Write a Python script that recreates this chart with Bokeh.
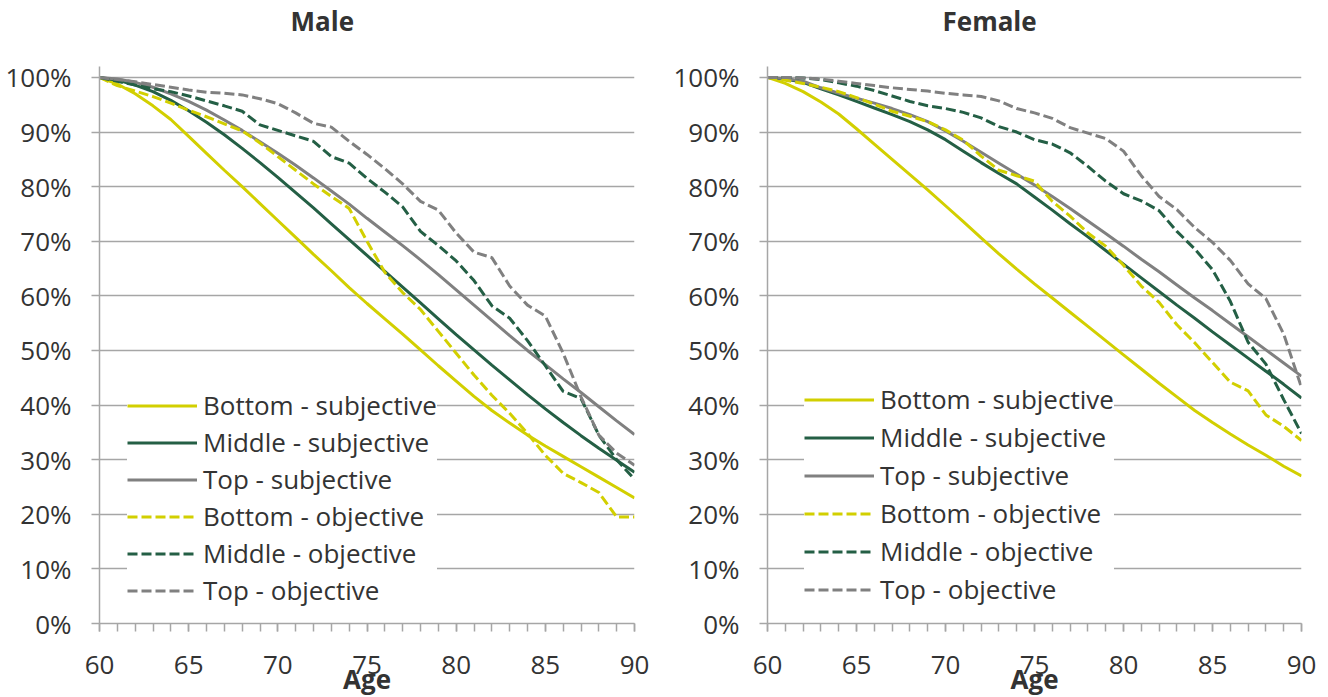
from bokeh.plotting import figure
from bokeh.layouts import row
from bokeh.models import Range1d, FixedTicker, Title
from bokeh.embed import file_html
from bokeh.resources import INLINE

ages = list(range(60, 91))

male_bottom_subj = [100, 98.8, 97.0, 94.8, 92.3, 89.2, 86.1, 83.0, 80.0, 76.9, 73.8, 70.7, 67.6, 64.6, 61.5, 58.6,
                    55.8, 53.0, 50.1, 47.2, 44.4, 41.6, 39.0, 36.7, 34.5, 32.5, 30.6, 28.7, 26.8, 24.9, 23.0]
male_middle_subj = [100, 99.5, 98.6, 97.4, 95.8, 93.9, 91.8, 89.5, 87.0, 84.4, 81.7, 78.9, 76.1, 73.2, 70.3, 67.4,
                    64.5, 61.6, 58.7, 55.8, 52.9, 50.1, 47.3, 44.6, 41.9, 39.3, 36.8, 34.4, 32.1, 29.9, 27.7]
male_top_subj = [100, 99.7, 99.1, 98.2, 97.0, 95.6, 94.0, 92.2, 90.3, 88.2, 86.1, 83.9, 81.6, 79.2, 76.8, 74.2,
                 71.7, 69.2, 66.6, 63.9, 61.1, 58.3, 55.5, 52.7, 50.0, 47.4, 44.8, 42.3, 39.7, 37.1, 34.6]
male_bottom_obj = [100, 98.5, 97.5, 96.5, 95.3, 94.0, 92.8, 91.5, 90.2, 88.0, 85.5, 83.0, 80.5, 78.2, 76.0, 70.0,
                   64.3, 60.6, 57.5, 53.5, 49.5, 45.5, 41.8, 38.5, 34.8, 30.8, 27.5, 25.8, 24.0, 19.5, 19.5]
male_middle_obj = [100, 99.3, 98.6, 97.9, 97.4, 96.6, 95.7, 94.8, 93.8, 91.3, 90.3, 89.3, 88.3, 85.5, 84.3, 81.5,
                   79.0, 76.3, 71.8, 69.2, 66.4, 62.8, 58.2, 55.9, 51.8, 47.2, 42.5, 41.2, 34.5, 30.0, 26.4]
male_top_obj = [100, 99.6, 99.2, 98.7, 98.2, 97.7, 97.3, 97.1, 96.8, 96.1, 95.2, 93.5, 91.6, 90.9, 88.3, 85.9,
                83.3, 80.5, 77.3, 75.7, 71.5, 68.0, 67.0, 61.8, 58.3, 56.3, 49.5, 41.5, 34.5, 31.2, 29.0]

female_bottom_subj = [100, 98.9, 97.4, 95.5, 93.3, 90.6, 87.8, 85.0, 82.2, 79.4, 76.5, 73.6, 70.6, 67.7, 64.9, 62.2,
                      59.6, 57.0, 54.4, 51.8, 49.2, 46.6, 44.0, 41.5, 39.0, 36.8, 34.7, 32.7, 30.8, 28.8, 27.0]
female_middle_subj = [100, 99.7, 99.1, 97.9, 96.8, 95.6, 94.4, 93.2, 91.9, 90.4, 88.6, 86.5, 84.4, 82.4, 80.5, 78.1,
                      75.7, 73.2, 70.8, 68.3, 65.8, 63.3, 60.8, 58.3, 55.9, 53.4, 51.0, 48.6, 46.2, 43.8, 41.3]
female_top_subj = [100, 99.8, 99.3, 98.1, 97.1, 96.2, 95.3, 94.3, 93.2, 91.9, 90.2, 88.3, 86.3, 84.3, 82.3, 80.3,
                   78.2, 76.0, 73.7, 71.4, 69.1, 66.7, 64.4, 62.0, 59.6, 57.3, 54.9, 52.5, 50.1, 47.7, 45.3]
female_bottom_obj = [100, 99.5, 98.9, 98.2, 97.4, 96.3, 95.1, 93.8, 92.9, 91.9, 90.4, 88.5, 85.6, 83.0, 82.0, 81.0,
                     77.3, 74.6, 71.5, 69.1, 65.6, 61.8, 58.8, 54.7, 51.4, 47.8, 44.2, 42.6, 38.2, 36.1, 33.5]
female_middle_obj = [100, 100, 99.9, 99.6, 99.0, 98.4, 97.6, 96.6, 95.6, 94.8, 94.3, 93.6, 92.6, 91.0, 90.0, 88.6,
                     87.8, 86.2, 83.7, 81.0, 78.7, 77.4, 75.6, 71.8, 68.6, 64.8, 59.0, 51.5, 47.5, 41.0, 34.8]
female_top_obj = [100, 100, 99.9, 99.7, 99.3, 98.9, 98.5, 98.1, 97.8, 97.5, 97.1, 96.8, 96.5, 95.7, 94.3, 93.5,
                  92.5, 90.8, 89.8, 88.8, 86.5, 82.0, 78.2, 75.8, 72.5, 69.8, 66.5, 62.2, 59.5, 53.0, 43.2]

series_labels = ["Bottom - subjective", "Middle - subjective", "Top - subjective",
                 "Bottom - objective", "Middle - objective", "Top - objective"]
y_ticks = list(range(0, 101, 10))
x_major = [60, 65, 70, 75, 80, 85, 90]

YELLOW = "#d2cf00"
GREEN = "#245f45"
GREY = "#808080"
AXIS = "#a6a6a6"
TEXT = "#333333"
FONT = "Open Sans"


def make_panel(title, series, width, bl, br, leg_xy, leg_spacing, title_offset):
    p = figure(width=width, height=697, output_backend="svg", toolbar_location=None,
               x_range=Range1d(60, 90), y_range=Range1d(0, 102),
               min_border_left=bl, min_border_right=br, min_border_top=65, min_border_bottom=74)
    p.outline_line_color = None
    p.background_fill_color = "white"
    p.border_fill_color = "white"
    p.xgrid.visible = False
    p.ygrid.ticker = FixedTicker(ticks=y_ticks)
    p.ygrid.grid_line_color = AXIS
    p.ygrid.grid_line_width = 1.5

    # thin spacer between the frame and the panel title
    p.add_layout(Title(text=" ", text_font_size="2px", standoff=24), "above")
    p.add_layout(Title(text=title, align="left", offset=title_offset, text_font=FONT,
                       text_font_size="26px", text_font_style="bold", text_color=TEXT,
                       vertical_align="bottom", standoff=0), "above")

    styles = [(YELLOW, "solid"), (GREEN, "solid"), (GREY, "solid"),
              (YELLOW, "10 4"), (GREEN, "10 4"), (GREY, "10 4")]
    for vals, lab, (col, dash) in zip(series, series_labels, styles):
        p.line(ages, vals, line_color=col, line_width=3, line_dash=dash, legend_label=lab)

    xa = p.xaxis[0]
    xa.ticker = FixedTicker(ticks=x_major, minor_ticks=ages)
    xa.axis_line_color = AXIS
    xa.axis_line_width = 1.5
    xa.major_tick_line_color = AXIS
    xa.minor_tick_line_color = AXIS
    xa.major_tick_line_width = 1.5
    xa.minor_tick_line_width = 1.5
    xa.major_tick_in = 0
    xa.minor_tick_in = 0
    xa.major_tick_out = 8
    xa.minor_tick_out = 8
    xa.major_label_text_font = FONT
    xa.major_label_text_font_size = "26px"
    xa.major_label_text_color = TEXT
    xa.major_label_standoff = 24

    p.add_layout(Title(text="Age", align="center", text_font=FONT,
                       text_font_size="26px", text_font_style="bold", text_color=TEXT,
                       vertical_align="top", standoff=-31), "below")

    ya = p.yaxis[0]
    ya.ticker = FixedTicker(ticks=y_ticks)
    ya.major_label_overrides = {t: f"{t}%" for t in y_ticks}
    ya.axis_line_color = AXIS
    ya.axis_line_width = 1.5
    ya.major_tick_line_color = AXIS
    ya.major_tick_line_width = 1.5
    ya.minor_tick_line_color = None
    ya.major_tick_in = 0
    ya.major_tick_out = 8
    ya.major_label_text_font = FONT
    ya.major_label_text_font_size = "26px"
    ya.major_label_text_color = TEXT
    ya.major_label_standoff = 20

    leg = p.legend[0]
    leg.location = leg_xy
    leg.label_text_font = FONT
    leg.label_text_font_size = "26px"
    leg.label_text_color = TEXT
    leg.glyph_width = 70
    leg.glyph_height = 31
    leg.label_height = 31
    leg.label_standoff = 6
    leg.spacing = leg_spacing
    leg.padding = 5
    leg.margin = 0
    leg.border_line_color = None
    leg.background_fill_color = "white"
    leg.background_fill_alpha = 1.0
    return p


p1 = make_panel("Male", [male_bottom_subj, male_middle_subj, male_top_subj,
                         male_bottom_obj, male_middle_obj, male_top_obj],
                668, 99, 34, (28, 15), 1, 191)
p2 = make_panel("Female", [female_bottom_subj, female_middle_subj, female_top_subj,
                           female_bottom_obj, female_middle_obj, female_top_obj],
                652, 99, 19, (37, 16), 2, 175)

layout = row(p1, p2)
open("out.html", "w").write(file_html(layout, INLINE))
